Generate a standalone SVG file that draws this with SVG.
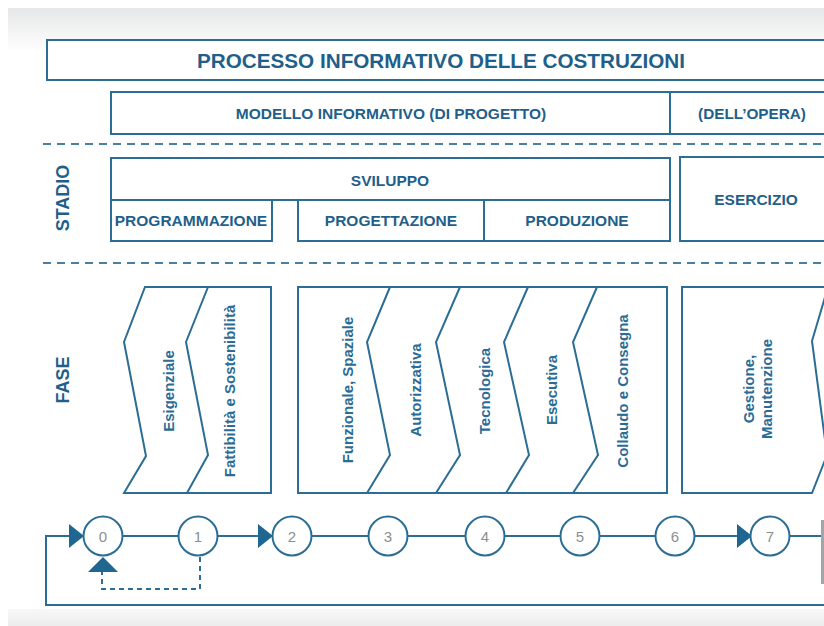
<svg xmlns="http://www.w3.org/2000/svg" width="824" height="626" viewBox="0 0 824 626">
<defs>
<linearGradient id="topg" x1="0" y1="0" x2="0" y2="1"><stop offset="0" stop-color="#e6e7e8"/><stop offset="1" stop-color="#ffffff"/></linearGradient>
<linearGradient id="botg" x1="0" y1="0" x2="0" y2="1"><stop offset="0" stop-color="#f8f8f8"/><stop offset="1" stop-color="#ececec"/></linearGradient>
<style>
.box{fill:#ffffff;stroke:#2b6d94;stroke-width:2}
.ln{fill:none;stroke:#2b6d94;stroke-width:2}
.dash{fill:none;stroke:#4b7fa1;stroke-width:2;stroke-dasharray:8 6}
.fb{fill:none;stroke:#2b6d94;stroke-width:2;stroke-dasharray:5 4}
.hd{font-family:"Liberation Sans",Arial,sans-serif;font-weight:bold;fill:#1f5f8a;text-anchor:middle;dominant-baseline:central}
.ph{font-family:"Liberation Sans",Arial,sans-serif;font-weight:bold;font-size:15px;fill:#2a6c96;text-anchor:middle;dominant-baseline:central}
.num{font-family:"Liberation Sans",Arial,sans-serif;font-size:15px;fill:#8a8f93;text-anchor:middle;dominant-baseline:central}
.circ{fill:#ffffff;stroke:#2b6d94;stroke-width:2}
.arr{fill:#1f6790}
</style>
</defs>
<rect x="0" y="0" width="824" height="626" fill="#ffffff"/>
<rect x="8" y="8" width="816" height="44" fill="url(#topg)"/>
<rect x="8" y="609" width="816" height="17" fill="url(#botg)"/>

<g id="processo">
<rect class="box" x="47" y="40" width="800" height="40"/>
<text class="hd" x="441" y="60" font-size="20.7">PROCESSO INFORMATIVO DELLE COSTRUZIONI</text>
</g>
<g id="modello">
<rect class="box" x="111" y="92" width="559" height="42"/>
<text class="hd" x="391" y="113" font-size="15.5">MODELLO INFORMATIVO (DI PROGETTO)</text>
</g>
<g id="opera">
<rect class="box" x="670" y="92" width="180" height="42"/>
<text class="hd" x="752" y="113" font-size="15.3">(DELL’OPERA)</text>
</g>

<g id="separators">
<line class="dash" x1="43" y1="144" x2="824" y2="144"/>
<line class="dash" x1="43" y1="263" x2="824" y2="263"/>
</g>

<g id="stadio-label"><text class="hd" font-size="18" transform="translate(63 198) rotate(-90)">STADIO</text></g>
<g id="fase-label"><text class="hd" font-size="18" transform="translate(63 380) rotate(-90)">FASE</text></g>

<g id="sviluppo">
<rect class="box" x="111" y="158" width="559" height="42"/>
<text class="hd" x="390" y="180" font-size="15.5">SVILUPPO</text>
</g>
<g id="programmazione">
<rect class="box" x="111" y="200" width="161" height="41"/>
<text class="hd" x="191" y="220" font-size="15.5">PROGRAMMAZIONE</text>
</g>
<g id="progettazione">
<rect class="box" x="298" y="200" width="186" height="41"/>
<text class="hd" x="391" y="220" font-size="15.5">PROGETTAZIONE</text>
</g>
<g id="produzione">
<rect class="box" x="484" y="200" width="186" height="41"/>
<text class="hd" x="577" y="220" font-size="15.5">PRODUZIONE</text>
</g>
<g id="esercizio">
<rect class="box" x="680" y="157" width="170" height="84"/>
<text class="hd" x="756" y="199" font-size="15.5">ESERCIZIO</text>
</g>

<g id="fase-programmazione">
<path class="box" d="M145,287 H271 V493 H124 L146,456 L124,342 Z"/>
<path class="ln" d="M208,287 L186,342 L208,455 L187,493"/>
<text class="ph" transform="translate(168 391) rotate(-90)">Esigenziale</text>
<text class="ph" transform="translate(229 391) rotate(-90)">Fattibilità e Sostenibilità</text>
</g>
<g id="fase-progettazione">
<rect class="box" x="298" y="287" width="369" height="206"/>
<path class="ln" d="M390,287 L367,342 L390,455 L367,493"/>
<path class="ln" d="M460,287 L436,342 L460,455 L436,493"/>
<path class="ln" d="M528,287 L504,342 L529,455 L506,493"/>
<path class="ln" d="M597,287 L573,342 L598,455 L573,493"/>
<text class="ph" transform="translate(347 390) rotate(-90)">Funzionale, Spaziale</text>
<text class="ph" transform="translate(415 390) rotate(-90)">Autorizzativa</text>
<text class="ph" transform="translate(484 391) rotate(-90)">Tecnologica</text>
<text class="ph" transform="translate(551 390) rotate(-90)">Esecutiva</text>
<text class="ph" transform="translate(622 391) rotate(-90)">Collaudo e Consegna</text>
</g>
<g id="fase-esercizio">
<path class="box" d="M850,287 H682 V493 H812 L827,455 L812,341 L828,287"/>
<text class="ph" transform="translate(757 389) rotate(-90)"><tspan x="0" dy="-9">Gestione,</tspan><tspan x="0" dy="18">Manutenzione</tspan></text>
</g>

<g id="connectors">
<path class="ln" d="M70,536 H46 V605 H830"/>
<line class="ln" x1="83" y1="536" x2="830" y2="536"/>
<polygon class="arr" points="84,536 69,524 69,548"/>
<polygon class="arr" points="273,536 258,524 258,548"/>
<polygon class="arr" points="752,536 737,524 737,548"/>
<path class="fb" d="M200,557 V589 H102 V572"/>
<polygon class="arr" points="103,557 88,572 118,572"/>
</g>

<g id="n0"><circle class="circ" cx="103" cy="536" r="19.5"/><text class="num" x="103" y="536">0</text></g>
<g id="n1"><circle class="circ" cx="198" cy="536" r="19.5"/><text class="num" x="198" y="536">1</text></g>
<g id="n2"><circle class="circ" cx="292" cy="536" r="19.5"/><text class="num" x="292" y="536">2</text></g>
<g id="n3"><circle class="circ" cx="388" cy="536" r="19.5"/><text class="num" x="388" y="536">3</text></g>
<g id="n4"><circle class="circ" cx="485" cy="536" r="19.5"/><text class="num" x="485" y="536">4</text></g>
<g id="n5"><circle class="circ" cx="580" cy="536" r="19.5"/><text class="num" x="580" y="536">5</text></g>
<g id="n6"><circle class="circ" cx="675" cy="536" r="19.5"/><text class="num" x="675" y="536">6</text></g>
<g id="n7"><circle class="circ" cx="770" cy="536" r="19.5"/><text class="num" x="770" y="536">7</text></g>
<rect x="821" y="520" width="3" height="64" fill="#a3a6a8"/>
</svg>
